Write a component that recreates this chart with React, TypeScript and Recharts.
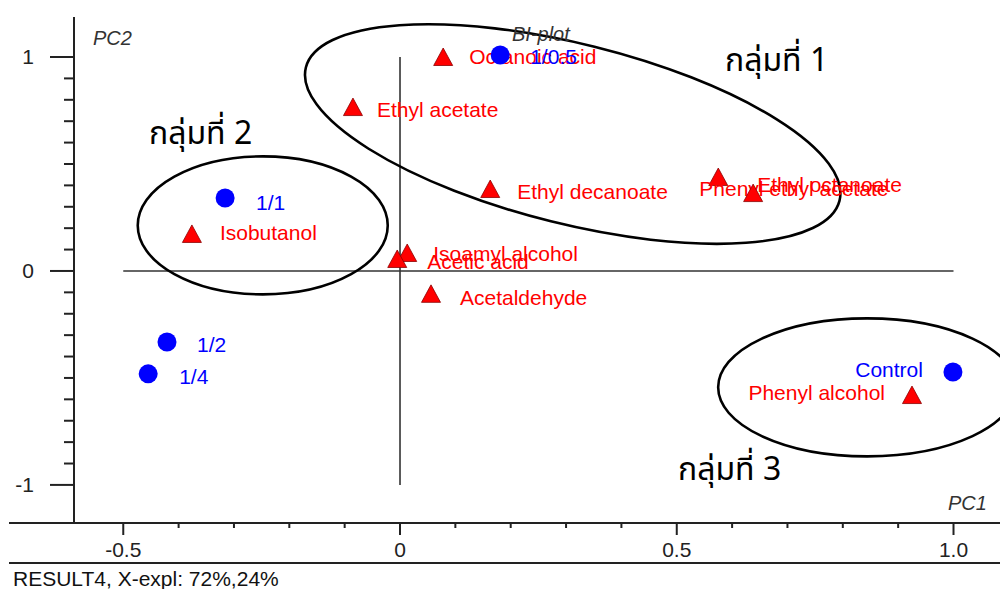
import { ScatterChart, Scatter, XAxis, YAxis, ReferenceLine } from 'recharts';

// scores (samples)
const sampleNames = ['1/0.5', '1/1', '1/2', '1/4', 'Control'];
const samplePC1 = [0.181, -0.316, -0.421, -0.455, 0.999];
const samplePC2 = [1.009, 0.341, -0.332, -0.481, -0.472];

// loadings (volatile compounds)
const compoundNames = [
  'Octanoic acid',
  'Ethyl acetate',
  'Ethyl decanoate',
  'Phenyl ethyl acetate',
  'Ethyl octanoate',
  'Isobutanol',
  'Isoamyl alcohol',
  'Acetic acid',
  'Acetaldehyde',
  'Phenyl alcohol',
];
const compoundPC1 = [0.078, -0.085, 0.163, 0.575, 0.638, -0.376, 0.013, -0.005, 0.056, 0.925];
const compoundPC2 = [1.0, 0.766, 0.383, 0.439, 0.364, 0.173, 0.084, 0.056, -0.107, -0.58];

// group ellipses
const groupNames = ['กลุ่มที่ 1', 'กลุ่มที่ 2', 'กลุ่มที่ 3'];
const groupPC1 = [0.312, -0.248, 0.844];
const groupPC2 = [0.64, 0.213, -0.544];

const xTicks = [-0.5, -0.4, -0.3, -0.2, -0.1, 0, 0.1, 0.2, 0.3, 0.4, 0.5, 0.6, 0.7, 0.8, 0.9, 1.0];
const xTickLabels: Record<string, string> = { '-0.5': '-0.5', '0': '0', '0.5': '0.5', '1': '1.0' };
const yTicks = [-1, -0.9, -0.8, -0.7, -0.6, -0.5, -0.4, -0.3, -0.2, -0.1, 0, 0.1, 0.2, 0.3, 0.4, 0.5, 0.6, 0.7, 0.8, 0.9, 1];
const yTickLabels: Record<string, string> = { '-1': '-1', '0': '0', '1': '1' };

const samples = sampleNames.map((name, i) => ({ name, x: samplePC1[i], y: samplePC2[i] }));
const compounds = compoundNames.map((name, i) => ({ name, x: compoundPC1[i], y: compoundPC2[i] }));
const groups = groupNames.map((name, i) => ({ name, x: groupPC1[i], y: groupPC2[i] }));

// label placement relative to marker: dx, dy, anchor
const labelPos: Record<string, [number, number, 'start' | 'end']> = {
  '1/0.5': [30, 2, 'start'],
  '1/1': [31, 5, 'start'],
  '1/2': [30, 3, 'start'],
  '1/4': [31, 3, 'start'],
  Control: [-30, -2, 'end'],
  'Octanoic acid': [26, 0, 'start'],
  'Ethyl acetate': [24, 3, 'start'],
  'Ethyl decanoate': [27, 3, 'start'],
  'Phenyl ethyl acetate': [-19, 12, 'start'],
  'Ethyl octanoate': [4, -8, 'start'],
  Isobutanol: [28, -1, 'start'],
  'Isoamyl alcohol': [26, 1, 'start'],
  'Acetic acid': [30, 3, 'start'],
  Acetaldehyde: [29, 4, 'start'],
  'Phenyl alcohol': [-27, -2, 'end'],
};

// ellipse sizes in px: rx, ry, rotation
const ellipseSize: Record<string, [number, number, number]> = {
  'กลุ่มที่ 1': [275, 90, 14],
  'กลุ่มที่ 2': [125, 69, 0],
  'กลุ่มที่ 3': [149, 69, 0],
};

const FONT = '"Liberation Sans", Arial, sans-serif';
const THAI = 'Tahoma, "Noto Sans Thai", "Noto Sans Thai Looped", "Loma", "Garuda", "DejaVu Sans", sans-serif';

const PointLabel = ({ cx, cy, name, color }: any) => {
  const [dx, dy, anchor] = labelPos[name] || [28, 0, 'start'];
  return (
    <text x={cx + dx} y={cy + dy + 7} textAnchor={anchor} fill={color} fontSize={21} fontFamily={FONT}>
      {name}
    </text>
  );
};

const CircleMark = (props: any) => {
  const { cx, cy, payload } = props;
  return (
    <g>
      <circle cx={cx} cy={cy} r={9.5} fill="#0000ff" />
      <PointLabel cx={cx} cy={cy} name={payload.name} color="#0000ff" />
    </g>
  );
};

const TriangleMark = (props: any) => {
  const { cx, cy, payload } = props;
  return (
    <g>
      <polygon
        points={`${cx},${cy - 9} ${cx + 9.5},${cy + 8.5} ${cx - 9.5},${cy + 8.5}`}
        fill="#ff0000"
        stroke="#8a0000"
        strokeWidth={0.8}
      />
      <PointLabel cx={cx} cy={cy} name={payload.name} color="#ff0000" />
    </g>
  );
};

const EllipseMark = (props: any) => {
  const { cx, cy, payload } = props;
  const [rx, ry, rot] = ellipseSize[payload.name];
  return (
    <ellipse
      cx={cx}
      cy={cy}
      rx={rx}
      ry={ry}
      fill="none"
      stroke="#000"
      strokeWidth={2.6}
      transform={`rotate(${rot} ${cx} ${cy})`}
    />
  );
};

const XTick = ({ x, y, payload }: any) => {
  const label = xTickLabels[String(payload.value)];
  return (
    <g>
      <line x1={x} x2={x} y1={y} y2={y + (label ? 12 : 5)} stroke="#222" strokeWidth={2} />
      {label && (
        <text x={x} y={y + 34} textAnchor="middle" fill="#222" fontSize={21} fontFamily={FONT}>
          {label}
        </text>
      )}
    </g>
  );
};

const YTick = ({ x, y, payload }: any) => {
  const label = yTickLabels[String(payload.value)];
  return (
    <g>
      <line x1={x - (label ? 24 : 10)} x2={x} y1={y} y2={y} stroke="#222" strokeWidth={2} />
      {label && (
        <text x={x - 40} y={y + 7} textAnchor="end" fill="#222" fontSize={21} fontFamily={FONT}>
          {label}
        </text>
      )}
    </g>
  );
};

const App = () => {
  return (
    <div style={{ position: 'absolute', left: 0, top: 0, width: 1000, height: 589, background: '#fff' }}>
      <ScatterChart width={1000} height={589} margin={{ top: 17, right: 0, bottom: 26, left: 10 }}>
        <XAxis
          type="number"
          dataKey="x"
          domain={[-0.589, 1.084]}
          allowDataOverflow
          ticks={xTicks}
          interval={0}
          tick={<XTick />}
          tickLine={false}
          tickSize={0}
          tickMargin={0}
          height={40}
          axisLine={{ stroke: '#222', strokeWidth: 2 }}
        />
        <YAxis
          type="number"
          dataKey="y"
          domain={[-1.178, 1.187]}
          allowDataOverflow
          ticks={yTicks}
          interval={0}
          tick={<YTick />}
          tickLine={false}
          tickSize={0}
          tickMargin={0}
          width={64}
          axisLine={{ stroke: '#222', strokeWidth: 2 }}
        />
        <ReferenceLine segment={[{ x: -0.5, y: 0 }, { x: 1.0, y: 0 }]} stroke="#333" strokeWidth={1.6} />
        <ReferenceLine segment={[{ x: 0, y: -1 }, { x: 0, y: 1 }]} stroke="#333" strokeWidth={1.6} />
        <Scatter data={groups} shape={<EllipseMark />} isAnimationActive={false} legendType="none" />
        <Scatter data={compounds} shape={<TriangleMark />} isAnimationActive={false} />
        <Scatter data={samples} shape={<CircleMark />} isAnimationActive={false} />
      </ScatterChart>
      <svg width={1000} height={589} style={{ position: 'absolute', left: 0, top: 0, pointerEvents: 'none' }}>
        <line x1={9} x2={75} y1={523} y2={523} stroke="#222" strokeWidth={2} />
        <line x1={9} x2={1000} y1={563} y2={563} stroke="#222" strokeWidth={2} />
        <text x={13} y={586} fontSize={21} fontFamily={FONT} fill="#111">
          RESULT4, X-expl: 72%,24%
        </text>
        <text x={93} y={45} fontSize={20} fontStyle="italic" fontFamily={FONT} fill="#333">
          PC2
        </text>
        <text x={948} y={510} fontSize={20} fontStyle="italic" fontFamily={FONT} fill="#333">
          PC1
        </text>
        <text x={512} y={41} fontSize={20} fontStyle="italic" fontFamily={FONT} fill="#333">
          BI-plot
        </text>
        <text x={725} y={71} fontSize={32} fontFamily={THAI} fill="#000">
          {groupNames[0]}
        </text>
        <text x={149} y={144} fontSize={32} fontFamily={THAI} fill="#000">
          {groupNames[1]}
        </text>
        <text x={678} y={480} fontSize={32} fontFamily={THAI} fill="#000">
          {groupNames[2]}
        </text>
      </svg>
    </div>
  );
};

export default App;
